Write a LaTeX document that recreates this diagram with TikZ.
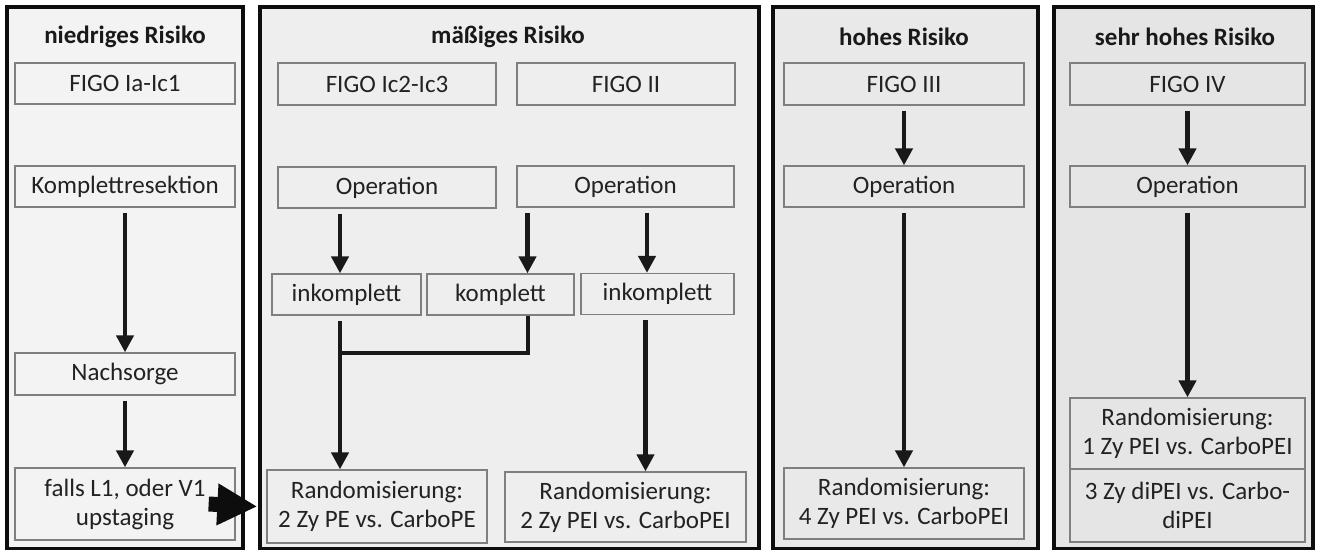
\documentclass[tikz,border=0pt]{standalone}
\usepackage{fontspec}
\setmainfont{Carlito}
\usetikzlibrary{arrows.meta}
\definecolor{panelA}{HTML}{F3F3F3}
\definecolor{panelB}{HTML}{EEEEEE}
\definecolor{panelC}{HTML}{E9E9E9}
\definecolor{panelD}{HTML}{E5E5E5}
\definecolor{boxline}{HTML}{7F7F7F}
\definecolor{boxtext}{HTML}{222222}
\newcommand\boxfont{\fontsize{25}{29}\selectfont}
\begin{document}
\begin{tikzpicture}[x=1pt,y=-1pt,
  panel/.style={draw=black!95, line width=3.8pt},
  head/.style={font=\boxfont\bfseries, text=black!90, inner sep=0pt},
  box/.style={draw=boxline, line width=1.3pt, inner sep=0pt, align=center,
              font=\boxfont, text=boxtext},
  flow/.style={line width=4.5pt, draw=black!90, shorten <=5pt,
               -{Triangle[length=17pt,width=17pt]}},
  joint/.style={line width=4pt, draw=black!90, line join=miter},
  bigarrow/.style={line width=15pt, draw=black!95,
               -{Triangle[length=40pt,width=39pt]}}]
\useasboundingbox (0,0) rectangle (1318,551);
\fill[white] (0,0) rectangle (1318,551);

% risk panels
\draw[panel, fill=panelA] (6.9,6.9) rectangle (243.1,548.5);
\draw[panel, fill=panelB] (259.9,6.9) rectangle (759.1,548.5);
\draw[panel, fill=panelC] (772.9,6.9) rectangle (1038.1,548.5);
\draw[panel, fill=panelD] (1053.9,6.9) rectangle (1313.1,548.5);

% headings
\node[head] (h1) at (125,37) {niedriges Risiko};
\node[head] (h2) at (508,37) {mäßiges Risiko};
\node[head] (h3) at (904,37) {hohes Risiko};
\node[head] (h4) at (1185,37) {sehr hohes Risiko};

% low risk
\node[box, minimum width=220pt, minimum height=41pt] (figo1) at (125,83.5) {FIGO Ia-Ic1};
\node[box, minimum width=220pt, minimum height=41pt] (kompl) at (125,186.5) {Komplettresektion};
\node[box, minimum width=220pt, minimum height=42pt] (nach) at (125,374) {Nachsorge};
\node[box, minimum width=220pt, minimum height=72pt] (falls) at (125,504) {falls L1, oder V1\\upstaging};

% moderate risk
\node[box, minimum width=218pt, minimum height=42pt] (figo2) at (387,84) {FIGO Ic2-Ic3};
\node[box, minimum width=218pt, minimum height=42pt] (figo3) at (626,84) {FIGO II};
\node[box, minimum width=218pt, minimum height=41pt] (op1) at (387,187.5) {Operation};
\node[box, minimum width=217pt, minimum height=41pt] (op2) at (625.5,186.5) {Operation};
\node[box, minimum width=149pt, minimum height=41pt] (ink1) at (346.5,294.5) {inkomplett};
\node[box, minimum width=147pt, minimum height=41pt] (kom) at (500.5,294.5) {komplett};
\node[box, minimum width=153pt, minimum height=41pt] (ink2) at (657.5,294) {inkomplett};
\node[box, minimum width=220pt, minimum height=73pt] (rand1) at (377,506.5) {Randomisierung:\\2 Zy PE vs. CarboPE};
\node[box, minimum width=241pt, minimum height=70pt] (rand2) at (625.5,507) {Randomisierung:\\2 Zy PEI vs. CarboPEI};

% high risk
\node[box, minimum width=240pt, minimum height=42pt] (figo4) at (904,84) {FIGO III};
\node[box, minimum width=240pt, minimum height=41pt] (op3) at (904,186.5) {Operation};
\node[box, minimum width=240pt, minimum height=71pt] (rand3) at (904,503.5) {Randomisierung:\\4 Zy PEI vs. CarboPEI};

% very high risk
\node[box, minimum width=235pt, minimum height=42pt] (figo5) at (1187.5,84) {FIGO IV};
\node[box, minimum width=235pt, minimum height=41pt] (op4) at (1187.5,186.5) {Operation};
\node[box, minimum width=235pt, minimum height=71pt] (rand4a) at (1187.5,433.5) {Randomisierung:\\1 Zy PEI vs. CarboPEI};
\node[box, minimum width=235pt, minimum height=73pt] (rand4b) at (1187.5,505.5) {3 Zy diPEI vs. Carbo-\\diPEI};

% connectors, low risk
\draw[flow] (kompl.south) -- (nach.north);
\draw[flow] (nach.south) -- (falls.north);
\draw[bigarrow] ([xshift=-27pt]falls.east) -- ([xshift=-9pt]rand1.west);

% connectors, moderate risk
\coordinate (inkIn)  at ([xshift=-6.5pt]ink1.north);
\coordinate (inkOut) at ([xshift=-6.5pt]ink1.south);
\coordinate (komIn)  at ([xshift=27pt]kom.north);
\coordinate (komOut) at ([xshift=27pt]kom.south);
\coordinate (inkbIn)  at ([xshift=-10.5pt]ink2.north);
\coordinate (inkbOut) at ([xshift=-12pt]ink2.south);
\draw[flow] (op1.south -| inkIn) -- (inkIn);
\draw[flow] (op2.south -| komIn) -- (komIn);
\draw[flow] (op2.south -| inkbIn) -- (inkbIn);
\coordinate (merge) at (inkOut |- 0,353);
\draw[joint] (komOut) |- (merge);
\draw[flow] (inkOut) -- (rand1.north -| inkOut);
\draw[flow] (inkbOut) -- (rand2.north -| inkbOut);

% connectors, high risk
\draw[flow] (figo4.south) -- (op3.north);
\draw[flow] (op3.south) -- (rand3.north);

% connectors, very high risk
\draw[flow] (figo5.south) -- (op4.north);
\draw[flow] (op4.south) -- (rand4a.north);
\end{tikzpicture}
\end{document}
